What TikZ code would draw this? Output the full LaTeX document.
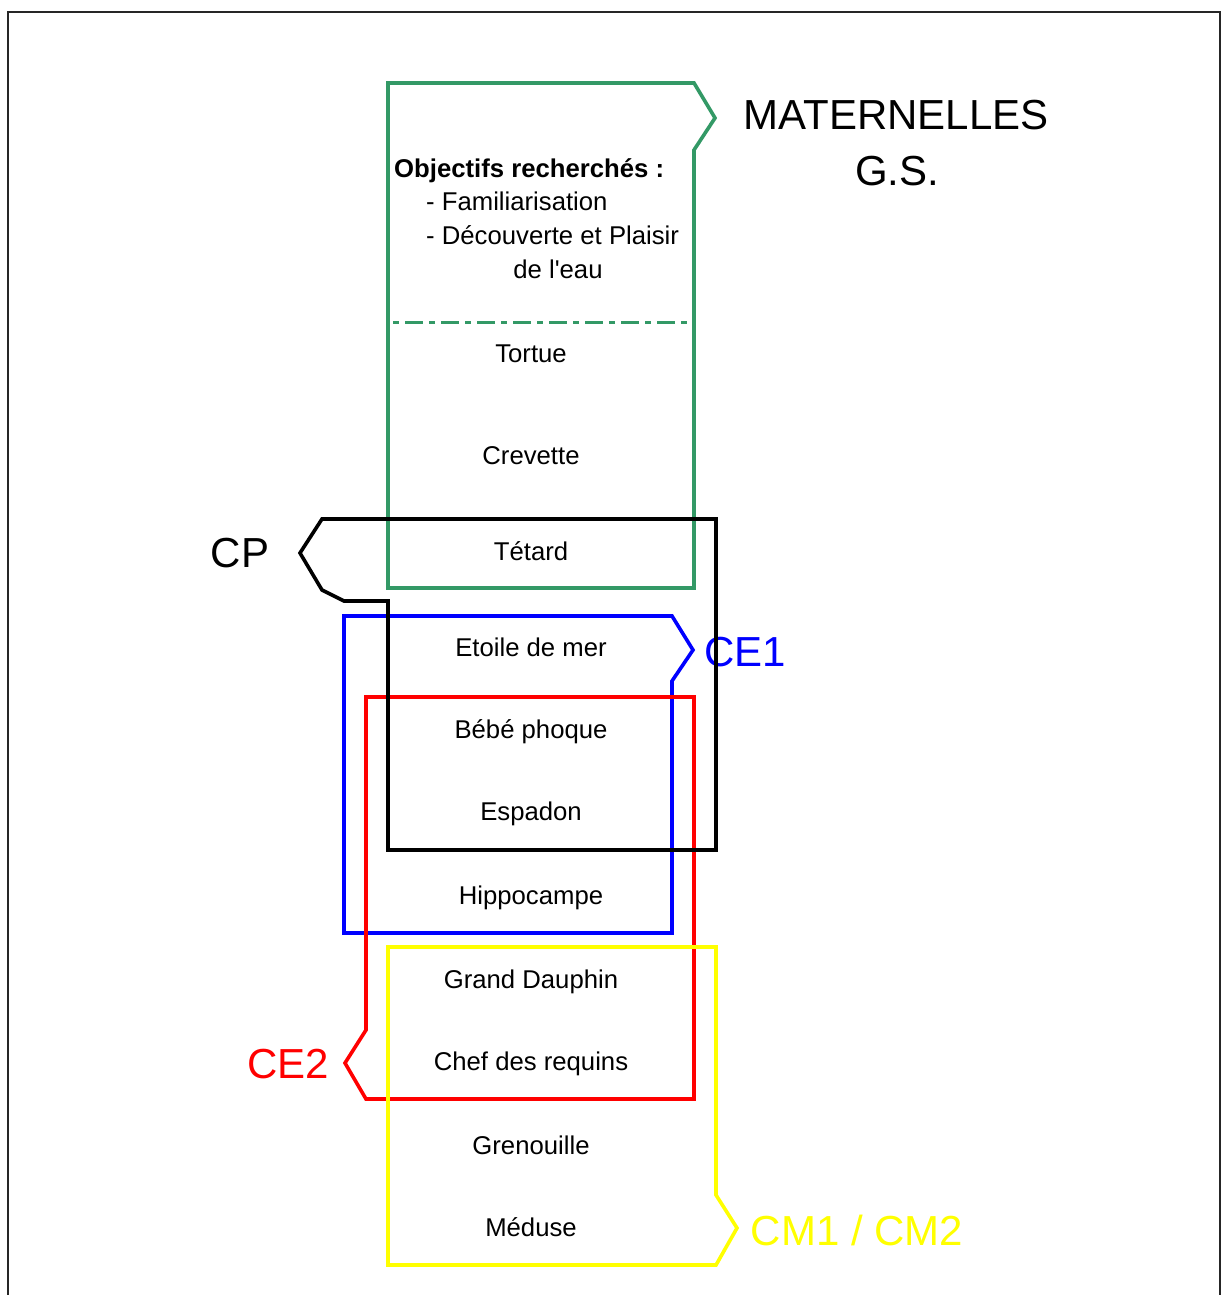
\documentclass[tikz,border=0pt]{standalone}
\usepackage{fontspec}
\setmainfont[Ligatures=TeXOff]{Liberation Sans}
\definecolor{grn}{RGB}{51,153,102}
\definecolor{ylw}{RGB}{255,255,0}
\begin{document}
\begin{tikzpicture}[x=1pt,y=-1pt, line join=miter,
  lbl/.style={font=\fontsize{25.7}{30}\selectfont, anchor=base, inner sep=0pt},
  lblw/.style={font=\fontsize{25.7}{30}\selectfont, anchor=base west, inner sep=0pt},
  big/.style={font=\fontsize{42}{50}\selectfont, anchor=base, inner sep=0pt},
  edge/.style={line width=3.6pt}]
\useasboundingbox (0,0) rectangle (1225,1295);
% outer frame
\draw[line width=2.2pt, black!85] (8,1296) -- (8,12) -- (1220,12) -- (1220,1296);
% texts
\node[lblw, font=\bfseries\fontsize{25.7}{30}\selectfont] (obj) at (394,177) {Objectifs recherchés :};
\node[lblw] (fam) at (426,210) {- Familiarisation};
\node[lblw] (dec) at (426,244) {- Découverte et Plaisir};
\node[lbl] (eau) at (558,278) {de l'eau};
\node[lbl] (t1) at (531,362) {Tortue};
\node[lbl] (t2) at (531,464) {Crevette};
\node[lbl] (t3) at (531,560) {Tétard};
\node[lbl] (t4) at (531,656) {Etoile de mer};
\node[lbl] (t5) at (531,738) {Bébé phoque};
\node[lbl] (t6) at (531,820) {Espadon};
\node[lbl] (t7) at (531,904) {Hippocampe};
\node[lbl] (t8) at (531,988) {Grand Dauphin};
\node[lbl] (t9) at (531,1070) {Chef des requins};
\node[lbl] (t10) at (531,1154) {Grenouille};
\node[lbl] (t11) at (531,1236) {Méduse};
\node[big] (mat) at (896,130) {MATERNELLES};
\node[big] (gs) at (897,185) {G.S.};
\node[big] (cp) at (240,567) {CP};
\node[big, text=blue] (ce1) at (745,666) {CE1};
\node[big, text=red] (ce2) at (288,1078) {CE2};
\node[big, text=ylw] (cm) at (857,1245) {CM1 / CM2};
% green box
\draw[edge, grn] (388,83) -- (694,83) -- (715,118) -- (694,150) -- (694,588) -- (388,588) -- cycle;
\draw[line width=3pt, grn, dash pattern=on 6pt off 6pt on 18pt off 6pt] (393,322) -- (688,322);
% blue CE1
\draw[edge, blue] (344,616) -- (672,616) -- (693,650) -- (672,681) -- (672,933) -- (344,933) -- cycle;
% red CE2
\draw[edge, red] (366,697) -- (694,697) -- (694,1099) -- (366,1099) -- (345,1063) -- (366,1030) -- cycle;
% yellow CM
\draw[edge, ylw] (388,947) -- (716,947) -- (716,1195) -- (737,1228) -- (716,1265) -- (388,1265) -- cycle;
% black CP
\draw[edge, black] (322,519) -- (716,519) -- (716,850) -- (388,850) -- (388,601) -- (344,601) -- (322,590) -- (300,553) -- cycle;
\end{tikzpicture}
\end{document}
